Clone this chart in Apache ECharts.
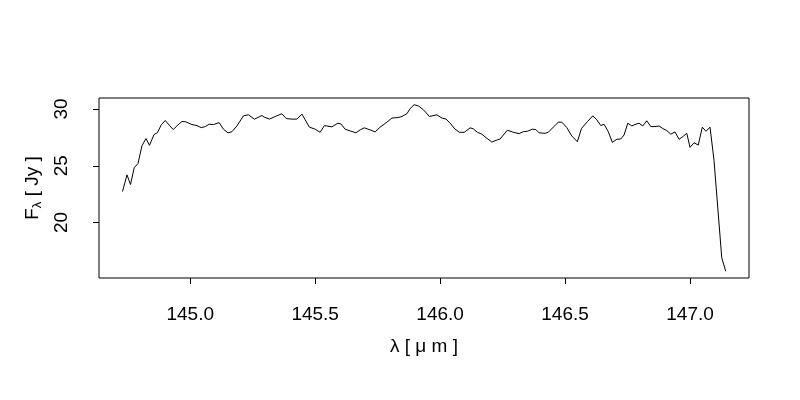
<!DOCTYPE html>
<html><head><meta charset="utf-8">
<script src="https://cdn.jsdelivr.net/npm/echarts@6/dist/echarts.min.js"></script>
<style>html,body{margin:0;padding:0;background:#fff}#c{width:800px;height:400px}</style>
</head><body><div id="c"></div>
<script>
const wavelength = [144.729,144.747,144.761,144.776,144.791,144.807,144.823,144.837,144.855,144.869,
144.884,144.900,144.916,144.932,144.948,144.967,144.983,145.007,145.027,145.044,
145.060,145.076,145.093,145.116,145.133,145.151,145.167,145.187,145.213,145.233,
145.257,145.287,145.296,145.317,145.340,145.367,145.384,145.407,145.427,145.447,
145.460,145.477,145.500,145.520,145.537,145.567,145.591,145.603,145.620,145.640,
145.663,145.680,145.696,145.720,145.740,145.760,145.787,145.807,145.831,145.847,
145.867,145.880,145.896,145.913,145.933,145.957,145.987,146.007,146.024,146.040,
146.060,146.077,146.097,146.120,146.133,146.149,146.167,146.187,146.207,146.224,
146.240,146.269,146.293,146.316,146.333,146.349,146.369,146.383,146.396,146.420,
146.433,146.453,146.473,146.487,146.507,146.527,146.549,146.566,146.590,146.611,
146.627,146.643,146.656,146.673,146.689,146.707,146.723,146.736,146.751,146.767,
146.780,146.796,146.811,146.827,146.843,146.860,146.876,146.891,146.907,146.923,
146.940,146.956,146.971,146.987,147.000,147.016,147.033,147.049,147.064,147.080,
147.096,147.127,147.143];
const flux = [22.73,24.20,23.35,24.84,25.20,26.76,27.40,26.80,27.74,27.92,
28.60,28.99,28.58,28.19,28.54,28.90,28.87,28.63,28.54,28.36,
28.45,28.66,28.63,28.80,28.22,27.90,28.00,28.51,29.40,29.49,
29.10,29.43,29.29,29.11,29.34,29.58,29.16,29.11,29.11,29.55,
29.05,28.40,28.22,27.95,28.54,28.43,28.75,28.69,28.22,28.07,
27.90,28.16,28.34,28.16,27.98,28.40,28.84,29.20,29.25,29.34,
29.58,30.03,30.38,30.27,29.94,29.34,29.49,29.20,29.11,28.75,
28.22,27.95,27.95,28.34,28.25,27.95,27.78,27.42,27.09,27.24,
27.36,28.13,27.95,27.83,28.00,28.04,28.22,28.19,27.90,27.86,
27.95,28.40,28.84,28.84,28.36,27.62,27.12,28.30,28.90,29.40,
29.05,28.54,28.66,28.00,27.06,27.33,27.36,27.71,28.75,28.51,
28.63,28.75,28.51,28.96,28.45,28.45,28.51,28.28,28.10,27.78,
27.98,27.33,27.56,27.86,26.62,27.03,26.82,28.40,28.04,28.40,
25.49,16.89,15.70];
const xTicks = [145.0,145.5,146.0,146.5,147.0];
const yTicks = [20,25,30];
const xTitle = 'λ [ μ m ]';
const yTitleMain = 'F';
const yTitleSub = 'λ';
const yTitleUnit = ' [ Jy ]';

const points = wavelength.map((w,i)=>[w, flux[i]]);
const font = 'Liberation Sans, Arial, Helvetica, sans-serif';
const chart = echarts.init(document.getElementById('c'), null, {renderer:'canvas'});
chart.setOption({
  animation:false,
  backgroundColor:'#ffffff',
  grid:{left:99, right:51, top:98, bottom:122, show:true, borderColor:'#000', borderWidth:1, backgroundColor:'transparent'},
  xAxis:{
    type:'value', min:144.635, max:147.236,
    axisLine:{show:false},
    splitLine:{show:false},
    axisTick:{show:true, length:6, lineStyle:{color:'#000'}, customValues:xTicks},
    axisLabel:{customValues:xTicks, formatter:v=>v.toFixed(1), color:'#000', fontSize:19, fontFamily:font, margin:27, lineHeight:19},
    name:xTitle, nameLocation:'middle', nameGap:59,
    nameTextStyle:{color:'#000', fontSize:19, fontFamily:font, lineHeight:19}
  },
  yAxis:{
    type:'value', min:15.11, max:30.97,
    axisLine:{show:false},
    splitLine:{show:false},
    axisTick:{show:true, length:6, lineStyle:{color:'#000'}, customValues:yTicks},
    axisLabel:{customValues:yTicks, formatter:v=>String(v), rotate:90, color:'#000', fontSize:19, fontFamily:font, margin:28, lineHeight:19},
    name:'{a|'+yTitleMain+'}{b|'+yTitleSub+'}{a|'+yTitleUnit+'}', nameLocation:'middle', nameGap:55,
    nameTextStyle:{color:'#000', fontFamily:font, rich:{
      a:{fontSize:19, fontFamily:font, color:'#000'},
      b:{fontSize:13, fontFamily:font, color:'#000', padding:[9,0,0,0]}
    }}
  },
  series:[{type:'line', data:points, showSymbol:false, symbol:'none', lineStyle:{color:'#000', width:1}, silent:true}]
});
</script></body></html>
